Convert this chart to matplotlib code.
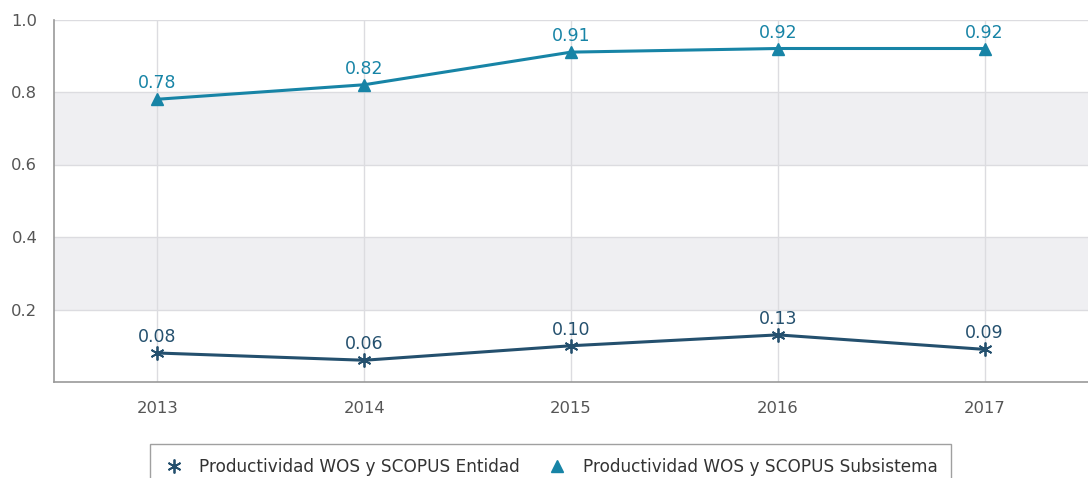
import matplotlib.pyplot as plt
from matplotlib.lines import Line2D

years = [2013, 2014, 2015, 2016, 2017]
entidad = [0.08, 0.06, 0.10, 0.13, 0.09]
subsistema = [0.78, 0.82, 0.91, 0.92, 0.92]
labels = ["Productividad WOS y SCOPUS Entidad", "Productividad WOS y SCOPUS Subsistema"]

c_ent = "#24506e"
c_sub = "#1784a6"

fig = plt.figure(figsize=(10.88, 4.78), dpi=100)
ax = fig.add_axes([54 / 1088, 1 - 382 / 478, 1 - 54 / 1088, (382 - 19.5) / 478])

ax.set_xlim(2012.5, 2017.5)
ax.set_ylim(0, 1.0)

# alternating bands
for lo, hi in [(0.2, 0.4), (0.6, 0.8)]:
    ax.axhspan(lo, hi, color="#efeff2", zorder=0, lw=0)

ax.set_yticks([0.2, 0.4, 0.6, 0.8, 1.0])
ax.set_yticklabels(["0.2", "0.4", "0.6", "0.8", "1.0"])
ax.set_xticks(years)
ax.grid(True, color="#dcdce0", lw=1, zorder=1)
ax.tick_params(length=0, labelsize=11.8, colors="#555555")
ax.tick_params(axis="y", pad=12)
ax.tick_params(axis="x", pad=14)

for s in ["top", "right"]:
    ax.spines[s].set_visible(False)
for s in ["left", "bottom"]:
    ax.spines[s].set_color("#999999")
    ax.spines[s].set_linewidth(1.2)

ax.plot(years, entidad, color=c_ent, lw=2.2, marker=(6, 2, 0), markersize=10,
        markeredgewidth=1.3, markeredgecolor=c_ent, zorder=3, clip_on=False)
ax.plot(years, subsistema, color=c_sub, lw=2.2, marker="^", markersize=9,
        markeredgecolor=c_sub, zorder=3, clip_on=False)

for x, v in zip(years, entidad):
    ax.annotate(f"{v:.2f}", (x, v), xytext=(0, 5), textcoords="offset points",
                ha="center", va="bottom", fontsize=12.5, color=c_ent)
for x, v in zip(years, subsistema):
    ax.annotate(f"{v:.2f}", (x, v), xytext=(0, 5), textcoords="offset points",
                ha="center", va="bottom", fontsize=12.5, color=c_sub)

handles = [
    Line2D([], [], ls="none", marker=(6, 2, 0), markersize=10, markeredgewidth=1.3,
           color=c_ent),
    Line2D([], [], ls="none", marker="^", markersize=9, color=c_sub),
]
leg = fig.legend(handles, labels, loc="upper left", bbox_to_anchor=(150 / 1088, 1 - 444 / 478),
                 ncol=2, frameon=True, fancybox=False, fontsize=12.2, handlelength=1.2,
                 handletextpad=0.9, columnspacing=1.6, borderpad=0.8,
                 borderaxespad=0)
leg.get_frame().set_edgecolor("#888888")
leg.get_frame().set_linewidth(1.0)
for t in leg.get_texts():
    t.set_color("#333333")

fig.savefig("out.png", dpi=100)
